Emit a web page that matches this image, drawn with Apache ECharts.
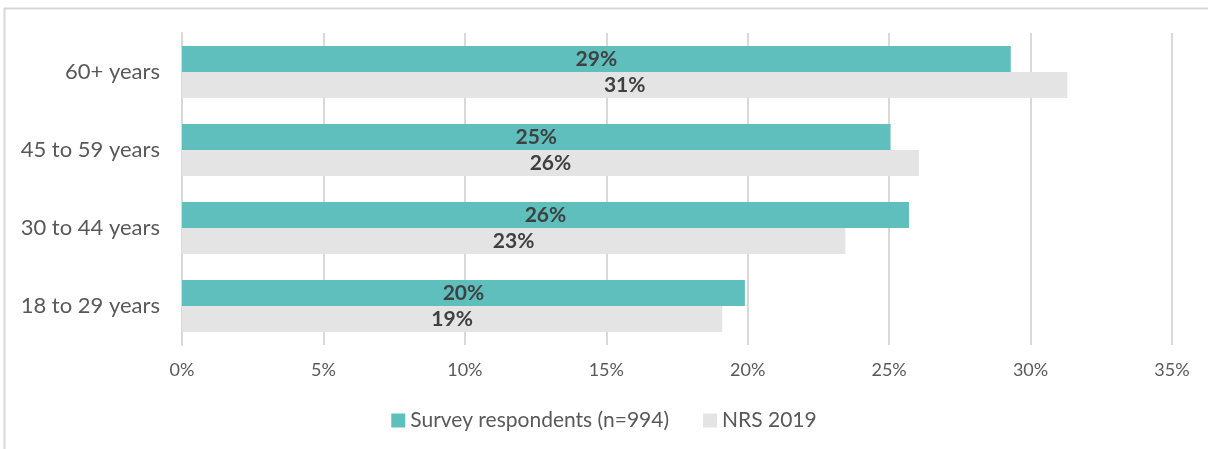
<!DOCTYPE html>
<html>
<head>
<meta charset="utf-8">
<script src="https://cdn.jsdelivr.net/npm/echarts@6/dist/echarts.min.js"></script>
<style>
  html, body { margin: 0; padding: 0; background: #fff; }
  #chart { width: 1208px; height: 449px; }
</style>
</head>
<body>
<div id="chart"></div>
<script>
// Age groups, bottom to top on the category axis
const categories = ['18 to 29 years', '30 to 44 years', '45 to 59 years', '60+ years'];
// Share of each group, in percent
const surveyValues = [19.9, 25.7, 25.05, 29.3];
const nrsValues = [19.1, 23.45, 26.05, 31.3];
const seriesNames = ['Survey respondents (n=994)', 'NRS 2019'];
const xTicks = [0, 5, 10, 15, 20, 25, 30, 35];

const FONT = 'Lato, "Open Sans", sans-serif';
const chart = echarts.init(document.getElementById('chart'));

const labelStyle = {
  show: true,
  position: 'inside',
  fontFamily: FONT,
  fontWeight: 'bold',
  fontSize: 21,
  color: '#404040',
  formatter: p => Math.round(p.value) + '%'
};

chart.setOption({
  animation: false,
  textStyle: { fontFamily: FONT },
  graphic: [
    { type: 'line', shape: { x1: 4, y1: 8.5, x2: 1208, y2: 8.5 }, style: { stroke: '#d9d9d9', lineWidth: 2 } },
    { type: 'line', shape: { x1: 4.5, y1: 8, x2: 4.5, y2: 449 }, style: { stroke: '#d9d9d9', lineWidth: 2 } }
  ],
  grid: { left: 182, right: 36, top: 33, height: 312, containLabel: false },
  legend: {
    top: 405,
    left: 'center',
    itemWidth: 14,
    itemHeight: 14,
    itemGap: 34,
    icon: 'rect',
    textStyle: { fontFamily: FONT, fontSize: 21, color: '#595959' },
    data: seriesNames
  },
  xAxis: {
    type: 'value',
    min: xTicks[0],
    max: xTicks[xTicks.length - 1],
    interval: 5,
    axisLine: { show: false },
    axisTick: { show: false },
    splitLine: { show: true, lineStyle: { color: '#d9d9d9', width: 2 } },
    axisLabel: {
      formatter: v => v + '%',
      fontFamily: FONT,
      fontSize: 18,
      color: '#595959',
      margin: 16
    }
  },
  yAxis: {
    type: 'category',
    data: categories,
    axisLine: { show: true, lineStyle: { color: '#d9d9d9', width: 2 } },
    axisTick: { show: false },
    axisLabel: { fontFamily: FONT, fontSize: 22, color: '#595959', margin: 22 }
  },
  series: [
    {
      name: seriesNames[0],
      type: 'bar',
      data: surveyValues,
      barWidth: 26,
      barGap: '0%',
      itemStyle: { color: '#5ebfbc' },
      label: labelStyle,
      z: 3
    },
    {
      name: seriesNames[1],
      type: 'bar',
      data: nrsValues,
      barWidth: 26,
      barGap: '0%',
      itemStyle: { color: '#e4e4e4' },
      label: labelStyle,
      z: 3
    }
  ]
});
</script>
</body>
</html>
